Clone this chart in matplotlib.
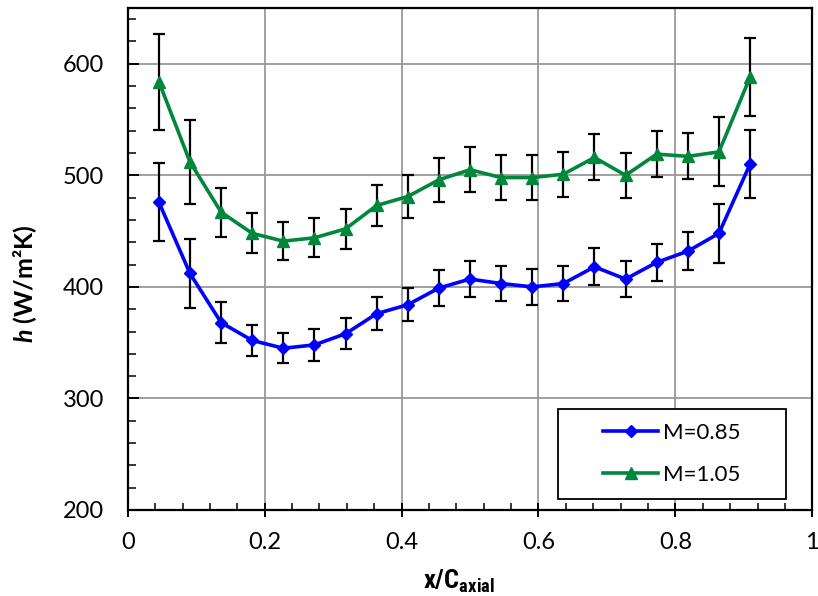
import matplotlib
matplotlib.use("Agg")
import matplotlib.pyplot as plt
from matplotlib import font_manager as fm
from matplotlib.patches import Rectangle
from matplotlib.ticker import MultipleLocator

x_pos = [i / 22 for i in range(1, 21)]

h_085 = [476, 412, 368, 352, 345, 348, 358, 376, 384, 399, 407, 403, 400, 403,
         418, 407, 422, 432, 448, 510]
err_085 = [35, 31, 18, 14, 13.5, 14, 14, 15, 15, 15.7, 16.3, 16, 15.8, 16,
           16.6, 15.8, 16.5, 17, 26.6, 30.5]

h_105 = [584, 512, 467, 448, 441, 444, 452, 473, 481, 496, 505, 498, 498, 501,
         516, 500, 519, 517, 521, 588]
err_105 = [43, 38, 22, 18, 17, 17.6, 18, 18.6, 19, 19.5, 20, 20, 20, 20,
           20.6, 20, 20.7, 20.5, 31, 35]

labels = ["M=0.85", "M=1.05"]
colors = ["#0000FF", "#00873C"]
xticks = [0, 0.2, 0.4, 0.6, 0.8, 1]
xticklabels = ['0', '0.2', '0.4', '0.6', '0.8', '1']
yticks = [200, 300, 400, 500, 600]


def first_font(cands):
    for c in cands:
        try:
            fm.findfont(fm.FontProperties(family=c, weight='bold'),
                        fallback_to_default=False)
            return c
        except Exception:
            continue
    return 'DejaVu Sans'


narrow = first_font(['Liberation Sans Narrow', 'Roboto Condensed', 'Arial Narrow',
                     'Liberation Sans'])

plt.rcParams['font.family'] = ['Lato', 'DejaVu Sans']
plt.rcParams['mathtext.fontset'] = 'custom'
plt.rcParams['mathtext.bf'] = narrow + ':bold'
plt.rcParams['mathtext.rm'] = 'Lato:bold'
has_bfit = 'mathtext.bfit' in plt.rcParams
if has_bfit:
    plt.rcParams['mathtext.bfit'] = 'Lato:italic:bold'

fig = plt.figure(figsize=(8.18, 5.96), dpi=100)
ax = fig.add_axes([0.1562, 0.1443, 0.8368, 0.8423])

for y, e, c, m, ms, lab in [(h_085, err_085, colors[0], 'D', 6.5, labels[0]),
                            (h_105, err_105, colors[1], '^', 8.5, labels[1])]:
    ax.errorbar(x_pos, y, yerr=e, fmt='none', ecolor='black', elinewidth=1.6,
                capsize=4, capthick=1.6, zorder=2)
    ax.plot(x_pos, y, color=c, lw=2.6, marker=m, ms=ms, label=lab, zorder=3)

ax.set_xlim(0, 1)
ax.set_ylim(200, 650)
ax.set_xticks(xticks)
ax.set_xticklabels(xticklabels)
ax.xaxis.set_minor_locator(MultipleLocator(0.04))
ax.set_yticks(yticks)
ax.yaxis.set_minor_locator(MultipleLocator(20))

ax.grid(True, which='major', color='#999999', lw=1.3)
ax.set_axisbelow(True)

ax.tick_params(axis='x', which='major', direction='inout', length=10, width=1.4,
               labelsize=17, pad=11)
ax.tick_params(axis='x', which='minor', direction='in', length=5, width=1.1)
ax.tick_params(axis='y', which='major', direction='in', length=8, width=1.4,
               labelsize=17, pad=17)
ax.tick_params(axis='y', which='minor', direction='in', length=6, width=1.1)
for s in ax.spines.values():
    s.set_linewidth(1.6)
    s.set_color('black')

ax.set_xlabel(r'$\mathbf{x/C_{axial}}$', fontsize=19)
ax.xaxis.set_label_coords(0.484, -0.115)
if has_bfit:
    ax.set_ylabel(r'$\mathbfit{h}$ (W/m²K)', fontsize=18, fontweight='bold')
else:
    ax.set_ylabel('h (W/m²K)', fontsize=18, fontweight='bold')
ax.yaxis.set_label_coords(-0.13, 0.45)

# legend frame (Excel style, plain rectangle) and entries
ax.add_patch(Rectangle((0.6288, 0.0219), 0.3332, 0.1793, transform=ax.transAxes,
                       facecolor='white', edgecolor='black', lw=1.3, zorder=4))
leg = ax.legend(loc='center', bbox_to_anchor=(0.7954, 0.1116), fontsize=16,
                frameon=False, labelspacing=1.0, handlelength=2.45,
                handletextpad=0.25, borderpad=0, borderaxespad=0)
leg.set_zorder(5)

fig.savefig('out.png', dpi=100)
